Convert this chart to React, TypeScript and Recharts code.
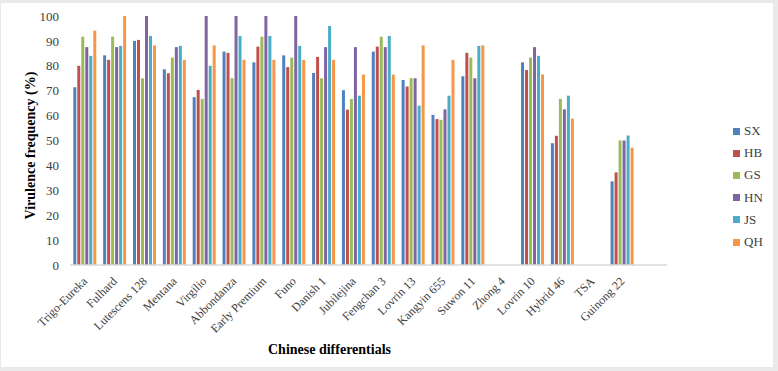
import React from 'react';
import { BarChart, Bar, XAxis, YAxis, Legend, Label } from 'recharts';

const differentials = [
  'Trigo-Eureka', 'Fulhard', 'Lutescens 128', 'Mentana', 'Virgilio', 'Abbondanza',
  'Early Premium', 'Funo', 'Danish 1', 'Jubilejina', 'Fengchan 3', 'Lovrin 13',
  'Kangyin 655', 'Suwon 11', 'Zhong 4', 'Lovrin 10', 'Hybrid 46', 'TSA', 'Guinong 22',
];

const SX = [71.4, 84.2, 90.0, 78.6, 67.4, 85.7, 81.4, 84.2, 77.1, 70.2, 85.7, 74.3, 60.3, 75.8, 0, 81.4, 48.9, 0, 33.6];
const HB = [80.0, 82.4, 90.4, 77.0, 70.3, 85.2, 87.7, 79.5, 83.6, 62.4, 87.7, 71.7, 58.6, 85.2, 0, 78.3, 51.9, 0, 37.2];
const GS = [91.7, 91.7, 75.0, 83.3, 66.7, 75.0, 91.7, 83.3, 75.0, 66.7, 91.7, 75.0, 58.3, 83.3, 0, 83.3, 66.7, 0, 50.0];
const HN = [87.5, 87.5, 100, 87.5, 100, 100, 100, 100, 87.5, 87.5, 87.5, 75.0, 62.5, 75.0, 0, 87.5, 62.5, 0, 50.0];
const JS = [84.0, 88.0, 92.0, 88.0, 80.0, 92.0, 92.0, 88.0, 96.0, 68.0, 92.0, 64.0, 68.0, 88.0, 0, 84.0, 68.0, 0, 52.0];
const QH = [94.1, 100, 88.2, 82.4, 88.2, 82.4, 82.4, 82.4, 82.4, 76.5, 76.5, 88.2, 82.4, 88.2, 0, 76.5, 58.8, 0, 47.1];

const yTicks = [0, 10, 20, 30, 40, 50, 60, 70, 80, 90, 100];

const series = [
  { key: 'SX', values: SX, color: '#4F81BD' },
  { key: 'HB', values: HB, color: '#C0504D' },
  { key: 'GS', values: GS, color: '#9BBB59' },
  { key: 'HN', values: HN, color: '#8064A2' },
  { key: 'JS', values: JS, color: '#4BACC6' },
  { key: 'QH', values: QH, color: '#F79646' },
];

// one trailing empty slot keeps the axis running past the last group
const data = [
  ...differentials.map((name, i) => {
    const row: Record<string, string | number> = { name };
    series.forEach((s) => {
      row[s.key] = s.values[i];
    });
    return row;
  }),
  { name: '' },
];

const FONT = '"Liberation Serif", "Times New Roman", serif';

function SlantTick(props: any) {
  const { x, y, payload } = props;
  return (
    <text
      x={x + 3}
      y={y + 9}
      transform={`rotate(-45, ${x + 3}, ${y + 9})`}
      textAnchor="end"
      fontSize={12}
      fontFamily={FONT}
      fill="#404040"
    >
      {payload.value}
    </text>
  );
}

// legend keeps series order (SX at top)
function SideLegend() {
  return (
    <div style={{ fontFamily: FONT, fontSize: 13, color: '#404040' }}>
      {series.map((s) => (
        <div key={s.key} style={{ display: 'flex', alignItems: 'center', height: 22.2 }}>
          <span style={{ width: 7, height: 7, background: s.color, marginRight: 4 }} />
          {s.key}
        </div>
      ))}
    </div>
  );
}

export default function App() {
  return (
    <div style={{ position: 'absolute', left: 0, top: 0, width: 778, height: 371, background: '#e9e9e9' }}>
      <div style={{ position: 'absolute', left: 1, top: 3, width: 772, height: 364, background: '#fff' }} />
      <div style={{ position: 'absolute', left: 0, top: 0 }}>
        <BarChart
          width={778}
          height={371}
          data={data}
          margin={{ top: 16, right: 66, bottom: 0, left: 0 }}
          barCategoryGap="11%"
          barGap={1}
        >
          <XAxis
            dataKey="name"
            interval={0}
            height={106}
            tick={<SlantTick />}
            tickLine={false}
            axisLine={{ stroke: '#d9d9d9', strokeWidth: 1.5 }}
          >
            <Label
              value="Chinese differentials"
              position="insideBottom"
              offset={17}
              dx={-39}
              style={{ fontFamily: FONT, fontSize: 14, fontWeight: 'bold', fill: '#000' }}
            />
          </XAxis>
          <YAxis
            width={70}
            domain={[0, 100]}
            ticks={yTicks}
            interval={0}
            tickLine={false}
            axisLine={false}
            tickSize={0}
            tickMargin={11}
            tick={{ fontFamily: FONT, fontSize: 13, fill: '#404040' }}
          >
            <Label
              value="Virulence frequency (%)"
              angle={-90}
              position="insideLeft"
              dx={25}
              dy={5}
              style={{ textAnchor: 'middle', fontFamily: FONT, fontSize: 14, fontWeight: 'bold', fill: '#000' }}
            />
          </YAxis>
          <Legend
            layout="vertical"
            align="right"
            verticalAlign="top"
            content={<SideLegend />}
            wrapperStyle={{ position: 'absolute', left: 733, top: 120, width: 45 }}
          />
          {series.map((s) => (
            <Bar key={s.key} dataKey={s.key} fill={s.color} isAnimationActive={false} />
          ))}
        </BarChart>
      </div>
    </div>
  );
}
